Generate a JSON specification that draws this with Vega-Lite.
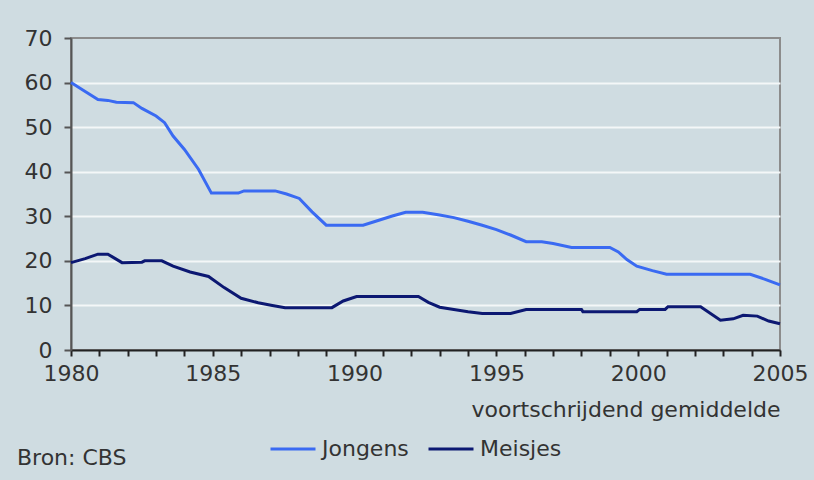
{
  "$schema": "https://vega.github.io/schema/vega-lite/v6.json",
  "width": 709,
  "height": 312,
  "autosize": {"type": "none"},
  "padding": {"left": 71, "top": 38, "right": 34, "bottom": 130},
  "background": "#cfdce1",
  "config": {
    "font": "DejaVu Sans",
    "view": {"stroke": "#8c8c8c", "strokeWidth": 2, "fill": "#cfdce1"}
  },
  "title": {
    "text": "Bron: CBS",
    "orient": "bottom",
    "anchor": "start",
    "frame": "group",
    "dx": -54,
    "dy": -12,
    "fontSize": 22,
    "fontWeight": "normal",
    "color": "#333333",
    "offset": 0
  },
  "data": {
    "values": [
      {"jaar": 1980, "waarde": 60, "groep": "Jongens"},
      {"jaar": 1980.5, "waarde": 58, "groep": "Jongens"},
      {"jaar": 1980.95, "waarde": 56.2, "groep": "Jongens"},
      {"jaar": 1981.3, "waarde": 56, "groep": "Jongens"},
      {"jaar": 1981.6, "waarde": 55.6, "groep": "Jongens"},
      {"jaar": 1982.2, "waarde": 55.5, "groep": "Jongens"},
      {"jaar": 1982.5, "waarde": 54.2, "groep": "Jongens"},
      {"jaar": 1983.0, "waarde": 52.5, "groep": "Jongens"},
      {"jaar": 1983.3, "waarde": 51, "groep": "Jongens"},
      {"jaar": 1983.6, "waarde": 48, "groep": "Jongens"},
      {"jaar": 1984.0, "waarde": 45, "groep": "Jongens"},
      {"jaar": 1984.5, "waarde": 40.5, "groep": "Jongens"},
      {"jaar": 1984.95, "waarde": 35.2, "groep": "Jongens"},
      {"jaar": 1985.9, "waarde": 35.2, "groep": "Jongens"},
      {"jaar": 1986.1, "waarde": 35.7, "groep": "Jongens"},
      {"jaar": 1987.2, "waarde": 35.7, "groep": "Jongens"},
      {"jaar": 1987.6, "waarde": 35, "groep": "Jongens"},
      {"jaar": 1988.05, "waarde": 34, "groep": "Jongens"},
      {"jaar": 1988.5, "waarde": 31, "groep": "Jongens"},
      {"jaar": 1989.0, "waarde": 28, "groep": "Jongens"},
      {"jaar": 1990.3, "waarde": 28, "groep": "Jongens"},
      {"jaar": 1990.8, "waarde": 29, "groep": "Jongens"},
      {"jaar": 1991.3, "waarde": 30, "groep": "Jongens"},
      {"jaar": 1991.8, "waarde": 30.9, "groep": "Jongens"},
      {"jaar": 1992.4, "waarde": 30.9, "groep": "Jongens"},
      {"jaar": 1993.0, "waarde": 30.3, "groep": "Jongens"},
      {"jaar": 1993.5, "waarde": 29.7, "groep": "Jongens"},
      {"jaar": 1994.0, "waarde": 28.9, "groep": "Jongens"},
      {"jaar": 1994.5, "waarde": 28, "groep": "Jongens"},
      {"jaar": 1995.0, "waarde": 27, "groep": "Jongens"},
      {"jaar": 1995.5, "waarde": 25.8, "groep": "Jongens"},
      {"jaar": 1996.05, "waarde": 24.3, "groep": "Jongens"},
      {"jaar": 1996.6, "waarde": 24.3, "groep": "Jongens"},
      {"jaar": 1997.0, "waarde": 23.9, "groep": "Jongens"},
      {"jaar": 1997.65, "waarde": 23.0, "groep": "Jongens"},
      {"jaar": 1999.0, "waarde": 23.0, "groep": "Jongens"},
      {"jaar": 1999.3, "waarde": 22, "groep": "Jongens"},
      {"jaar": 1999.6, "waarde": 20.3, "groep": "Jongens"},
      {"jaar": 1999.95, "waarde": 18.8, "groep": "Jongens"},
      {"jaar": 2000.5, "waarde": 17.8, "groep": "Jongens"},
      {"jaar": 2001.0, "waarde": 17.0, "groep": "Jongens"},
      {"jaar": 2003.95, "waarde": 17.0, "groep": "Jongens"},
      {"jaar": 2004.5, "waarde": 15.8, "groep": "Jongens"},
      {"jaar": 2005, "waarde": 14.6, "groep": "Jongens"},
      {"jaar": 1980, "waarde": 19.6, "groep": "Meisjes"},
      {"jaar": 1980.5, "waarde": 20.5, "groep": "Meisjes"},
      {"jaar": 1980.95, "waarde": 21.5, "groep": "Meisjes"},
      {"jaar": 1981.3, "waarde": 21.5, "groep": "Meisjes"},
      {"jaar": 1981.8, "waarde": 19.6, "groep": "Meisjes"},
      {"jaar": 1982.5, "waarde": 19.7, "groep": "Meisjes"},
      {"jaar": 1982.6, "waarde": 20.0, "groep": "Meisjes"},
      {"jaar": 1983.2, "waarde": 20.0, "groep": "Meisjes"},
      {"jaar": 1983.6, "waarde": 18.8, "groep": "Meisjes"},
      {"jaar": 1984.2, "waarde": 17.5, "groep": "Meisjes"},
      {"jaar": 1984.85, "waarde": 16.5, "groep": "Meisjes"},
      {"jaar": 1985.4, "waarde": 14, "groep": "Meisjes"},
      {"jaar": 1986.0, "waarde": 11.6, "groep": "Meisjes"},
      {"jaar": 1986.6, "waarde": 10.6, "groep": "Meisjes"},
      {"jaar": 1987.1, "waarde": 10.0, "groep": "Meisjes"},
      {"jaar": 1987.55, "waarde": 9.5, "groep": "Meisjes"},
      {"jaar": 1989.2, "waarde": 9.5, "groep": "Meisjes"},
      {"jaar": 1989.6, "waarde": 11, "groep": "Meisjes"},
      {"jaar": 1990.07, "waarde": 12.0, "groep": "Meisjes"},
      {"jaar": 1992.25, "waarde": 12.0, "groep": "Meisjes"},
      {"jaar": 1992.6, "waarde": 10.7, "groep": "Meisjes"},
      {"jaar": 1993.0, "waarde": 9.6, "groep": "Meisjes"},
      {"jaar": 1993.5, "waarde": 9.1, "groep": "Meisjes"},
      {"jaar": 1994.0, "waarde": 8.6, "groep": "Meisjes"},
      {"jaar": 1994.5, "waarde": 8.2, "groep": "Meisjes"},
      {"jaar": 1995.5, "waarde": 8.2, "groep": "Meisjes"},
      {"jaar": 1996.05, "waarde": 9.1, "groep": "Meisjes"},
      {"jaar": 1998.0, "waarde": 9.1, "groep": "Meisjes"},
      {"jaar": 1998.05, "waarde": 8.6, "groep": "Meisjes"},
      {"jaar": 1999.95, "waarde": 8.6, "groep": "Meisjes"},
      {"jaar": 2000.05, "waarde": 9.1, "groep": "Meisjes"},
      {"jaar": 2000.95, "waarde": 9.1, "groep": "Meisjes"},
      {"jaar": 2001.05, "waarde": 9.7, "groep": "Meisjes"},
      {"jaar": 2002.2, "waarde": 9.7, "groep": "Meisjes"},
      {"jaar": 2002.9, "waarde": 6.7, "groep": "Meisjes"},
      {"jaar": 2003.35, "waarde": 7.0, "groep": "Meisjes"},
      {"jaar": 2003.7, "waarde": 7.8, "groep": "Meisjes"},
      {"jaar": 2004.2, "waarde": 7.6, "groep": "Meisjes"},
      {"jaar": 2004.6, "waarde": 6.5, "groep": "Meisjes"},
      {"jaar": 2005, "waarde": 5.9, "groep": "Meisjes"}
    ]
  },
  "mark": {"type": "line", "strokeWidth": 3},
  "encoding": {
    "x": {
      "field": "jaar",
      "type": "quantitative",
      "scale": {"domain": [1980, 2005], "nice": false, "zero": false},
      "axis": {
        "values": [1980, 1981, 1982, 1983, 1984, 1985, 1986, 1987, 1988, 1989, 1990, 1991, 1992, 1993, 1994, 1995, 1996, 1997, 1998, 1999, 2000, 2001, 2002, 2003, 2004, 2005],
        "format": "d",
        "labelExpr": "datum.value % 5 === 0 ? datum.label : ''",
        "labelOverlap": false,
        "labelFlush": false,
        "labelFontSize": 22,
        "labelColor": "#333333",
        "labelPadding": 7,
        "grid": false,
        "domainColor": "#222222",
        "domainWidth": 2,
        "tickColor": "#222222",
        "tickWidth": 2,
        "tickSize": 6,
        "title": "voortschrijdend gemiddelde",
        "titleFontSize": 22,
        "titleFontWeight": "normal",
        "titleColor": "#333333",
        "titleAnchor": "end",
        "titlePadding": 15
      }
    },
    "y": {
      "field": "waarde",
      "type": "quantitative",
      "scale": {"domain": [0, 70], "nice": false},
      "axis": {
        "values": [0, 10, 20, 30, 40, 50, 60, 70],
        "labelFontSize": 22,
        "labelColor": "#333333",
        "labelPadding": 12,
        "domainColor": "#555555",
        "domainWidth": 2,
        "tickColor": "#555555",
        "tickWidth": 2,
        "tickSize": 7,
        "grid": true,
        "gridColor": {"condition": {"test": "datum.value === 0 || datum.value === 70", "value": "transparent"}, "value": "#f4f7f8"},
        "gridWidth": 2,
        "title": null
      }
    },
    "color": {
      "field": "groep",
      "type": "nominal",
      "scale": {"domain": ["Jongens", "Meisjes"], "range": ["#3a6af2", "#0c1872"]},
      "legend": {
        "title": null,
        "orient": "none",
        "legendX": 198,
        "legendY": 387,
        "direction": "horizontal",
        "symbolType": "stroke",
        "symbolSize": 2025,
        "symbolStrokeWidth": 3,
        "labelFontSize": 22,
        "labelColor": "#333333",
        "labelOffset": 5,
        "columnPadding": 13
      }
    }
  }
}
